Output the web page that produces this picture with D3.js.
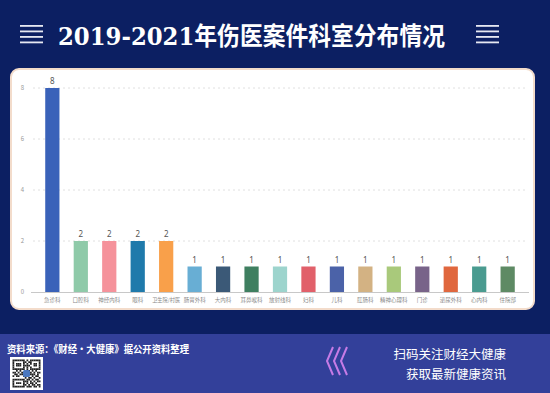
<!DOCTYPE html>
<html>
<head>
<meta charset="utf-8">
<script src="https://cdn.jsdelivr.net/npm/d3@7"></script>
<style>
  html, body { margin: 0; padding: 0; background: #0c1f62; }
  svg { display: block; }
</style>
</head>
<body>
<script>
// data
var departments = ["急诊科", "口腔科", "神经内科", "眼科", "卫生院/村医", "肠胃外科", "大内科", "耳鼻喉科",
  "放射线科", "妇科", "儿科", "肛肠科", "精神心理科", "门诊", "泌尿外科", "心内科", "住院部"];
var cases = [8, 2, 2, 2, 2, 1, 1, 1, 1, 1, 1, 1, 1, 1, 1, 1, 1];
var barColors = ["#3a62b9", "#8fcaa9", "#f5929b", "#1f7aab", "#f9a04a", "#68aed4", "#3b5977", "#3f7f60",
  "#9dd4cd", "#e1606a", "#4b62a8", "#d3b283", "#a9c97b", "#786389", "#e0673e", "#4a9b90", "#5e8a64"];
var yTicks = [0, 2, 4, 6, 8];

var W = 550, H = 393;
var svg = d3.select("body").append("svg")
  .attr("width", W)
  .attr("height", H);

// background
svg.append("rect").attr("width", W).attr("height", H).attr("fill", "#0c1f62");

// title
svg.append("text")
  .attr("x", 58)
  .attr("y", 45)
  .attr("fill", "#fff")
  .attr("font-family", "'DejaVu Serif', 'Liberation Serif', 'Noto Sans CJK SC', serif")
  .attr("font-weight", "bold")
  .attr("font-size", 25)
  .attr("textLength", 387)
  .attr("lengthAdjust", "spacingAndGlyphs")
  .text("2019-2021年伤医案件科室分布情况");

// hamburger icons
[20, 476].forEach(function (x0) {
  [26, 31.5, 37, 42.5].forEach(function (y0) {
    svg.append("rect")
      .attr("x", x0).attr("y", y0 - 1)
      .attr("width", 23).attr("height", 1.8)
      .attr("fill", "#e6e8f2");
  });
});

// white card
svg.append("rect")
  .attr("x", 11).attr("y", 69)
  .attr("width", 523).attr("height", 240)
  .attr("rx", 8)
  .attr("fill", "#fff")
  .attr("stroke", "#f3dccb")
  .attr("stroke-width", 2);

// scales
var x = d3.scaleBand()
  .domain(departments)
  .range([31, 529])
  .padding(0.5);
var y = d3.scaleLinear()
  .domain([0, 8])
  .range([292, 88]);

// grid
svg.append("g").selectAll("line")
  .data(yTicks.filter(function (d) { return d > 0; }))
  .enter().append("line")
  .attr("x1", 33).attr("x2", 528)
  .attr("y1", function (d) { return y(d); })
  .attr("y2", function (d) { return y(d); })
  .attr("stroke", "#d8d8d8")
  .attr("stroke-width", 0.8)
  .attr("stroke-dasharray", "2,3");

// y axis labels
var yAxis = d3.axisLeft(y).tickValues(yTicks).tickSize(0).tickPadding(0);
var gy = svg.append("g").attr("transform", "translate(24,0)").call(yAxis);
gy.select(".domain").remove();
gy.selectAll("text")
  .attr("fill", "#999")
  .attr("font-size", 6)
  .attr("font-family", "'Noto Sans CJK SC', sans-serif");

// x axis
var xAxis = d3.axisBottom(x).tickSize(0).tickPadding(6);
var gx = svg.append("g").attr("transform", "translate(0,292)").call(xAxis);
gx.select(".domain").attr("stroke", "#c8c8c8").attr("d", "M31,0.5H529");
gx.selectAll("text")
  .attr("fill", "#8a8a8a")
  .attr("font-size", 5.5)
  .attr("font-family", "'Noto Sans CJK SC', sans-serif")
  .each(function () {
    if (this.getComputedTextLength() > 28) {
      d3.select(this).attr("textLength", 28).attr("lengthAdjust", "spacingAndGlyphs");
    }
  });

// bars
svg.append("g").selectAll("rect")
  .data(cases)
  .enter().append("rect")
  .attr("x", function (d, i) { return x(departments[i]); })
  .attr("y", function (d) { return y(d); })
  .attr("width", x.bandwidth())
  .attr("height", function (d) { return y(0) - y(d); })
  .attr("fill", function (d, i) { return barColors[i]; });

// value labels
svg.append("g").selectAll("text")
  .data(cases)
  .enter().append("text")
  .attr("x", function (d, i) { return x(departments[i]) + x.bandwidth() / 2; })
  .attr("y", function (d) { return y(d) - 4; })
  .attr("text-anchor", "middle")
  .attr("fill", "#555")
  .attr("font-size", 8)
  .attr("font-family", "'Noto Sans', sans-serif")
  .text(function (d) { return d; });

// footer band
svg.append("rect")
  .attr("x", 0).attr("y", 334)
  .attr("width", W).attr("height", H - 334)
  .attr("fill", "#33409a");

svg.append("text")
  .attr("x", 7).attr("y", 353)
  .attr("fill", "#fff")
  .attr("font-weight", "bold")
  .attr("font-size", 10)
  .attr("font-family", "'Noto Sans CJK SC', sans-serif")
  .attr("textLength", 182)
  .attr("lengthAdjust", "spacingAndGlyphs")
  .text("资料来源：《财经·大健康》据公开资料整理");

// qr code (decorative)
var qr = svg.append("g").attr("transform", "translate(10,357)");
qr.append("rect").attr("width", 33).attr("height", 33).attr("fill", "#fff");
var qrRows = [
  "1111111010111111",
  "1000001101100001",
  "1011101010101101",
  "1011101111001101",
  "1000001010100001",
  "1111111010111111",
  "0010100111010100",
  "1101011100101011",
  "0110110101111010",
  "1011001110010110",
  "0000000101101001",
  "1111111011010110",
  "1000001110101011",
  "1011101010110100",
  "1000001101011011",
  "1111111011101101"
];
qrRows.forEach(function (row, r) {
  row.split("").forEach(function (c, k) {
    if (c === "1") {
      qr.append("rect")
        .attr("x", 2.5 + k * 1.75).attr("y", 2.5 + r * 1.75)
        .attr("width", 1.75).attr("height", 1.75)
        .attr("fill", "#222");
    }
  });
});
qr.append("rect").attr("x", 13).attr("y", 13).attr("width", 7).attr("height", 7)
  .attr("rx", 1.5).attr("fill", "#4a78c0");

// chevrons
[327, 334, 341].forEach(function (cx) {
  svg.append("path")
    .attr("d", "M" + (cx + 6) + ",347 L" + cx + ",361 L" + (cx + 6) + ",375")
    .attr("fill", "none")
    .attr("stroke", "#c67be6")
    .attr("stroke-width", 2);
});

// right footer text
svg.append("text")
  .attr("x", 506).attr("y", 359)
  .attr("text-anchor", "end")
  .attr("fill", "#fff")
  .attr("font-size", 12.5)
  .attr("font-family", "'Noto Sans CJK SC', sans-serif")
  .text("扫码关注财经大健康");
svg.append("text")
  .attr("x", 506).attr("y", 379)
  .attr("text-anchor", "end")
  .attr("fill", "#fff")
  .attr("font-size", 12.5)
  .attr("font-family", "'Noto Sans CJK SC', sans-serif")
  .text("获取最新健康资讯");
</script>
</body>
</html>
